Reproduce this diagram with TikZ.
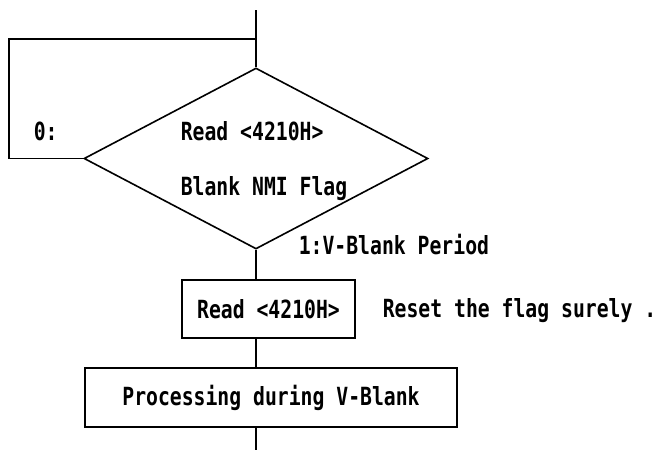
\documentclass[tikz,border=0pt]{standalone}
\usepackage{fontspec}
\usepackage{tikz}
\usetikzlibrary{positioning, shapes.geometric}
\newfontfamily\flowfont{DejaVu Sans Mono}[FakeStretch=0.79]

\begin{document}
\begin{tikzpicture}[x=1pt,y=-1pt,
   every node/.style={font=\flowfont\bfseries\fontsize{25}{30}\selectfont},
   line width=1.6pt,
   decision/.style={draw,diamond,inner sep=0pt,minimum width=344pt,minimum height=181pt},
   procbox/.style={draw,rectangle,inner sep=0pt},
   note/.style={anchor=mid west,inner sep=0pt}]
\useasboundingbox (0,0) rectangle (657,450);
\coordinate (entry) at (256,10);
\coordinate (loop) at (9,39);
\coordinate (exit) at (256,450);
\node[decision] (flag) at (256,158.5) {};
\node[note] (flagread) at (180,138) {Read <4210H>};
\node[note] (flagname) at (180,193) {Blank NMI Flag};
\node[note] (no) at (33,138) {0:};
\node[note] (yes) at (298,252) {1:V-Blank Period};
\node[procbox,minimum width=173pt,minimum height=58pt] (rdbox) at (268.5,309) {Read <4210H>};
\node[note] (reset) at (382,315) {Reset the flag surely .};
\node[procbox,minimum width=372pt,minimum height=59pt] (vblank) at (271,397.5) {Processing during V-Blank};
% connectors
\draw (entry) -- (flag.north);
\draw (flag.west) -| (loop) -- (loop -| flag.north);
\draw (flag.south) -- (flag.south |- rdbox.north);
\draw (rdbox.south -| flag.south) -- (vblank.north -| flag.south);
\draw (vblank.south -| flag.south) -- (exit);
\end{tikzpicture}
\end{document}
